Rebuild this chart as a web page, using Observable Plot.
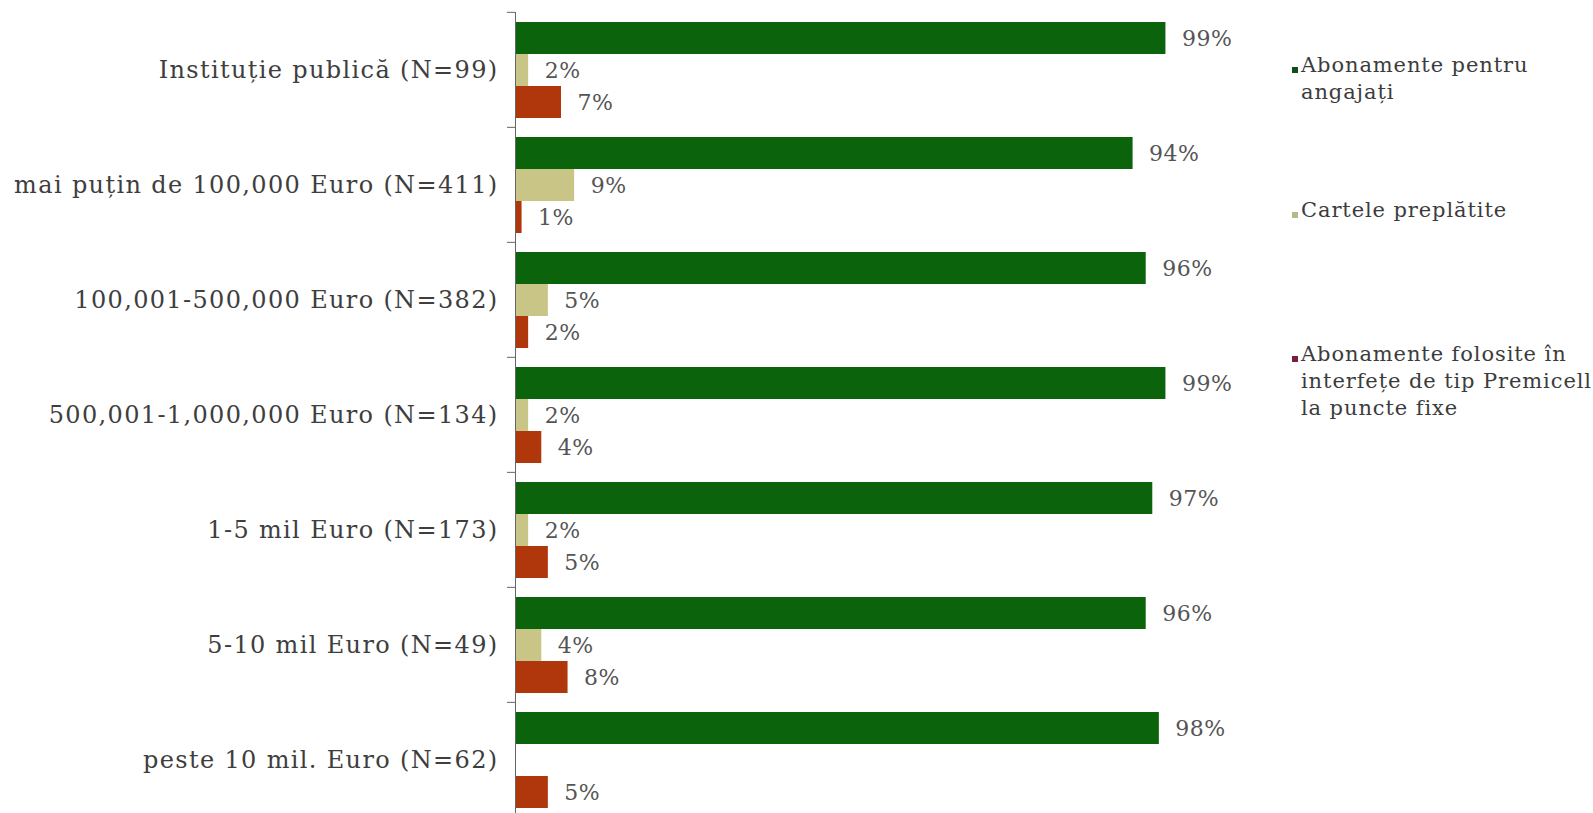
<!DOCTYPE html>
<html>
<head>
<meta charset="utf-8">
<script src="https://cdn.jsdelivr.net/npm/d3@7"></script>
<script src="https://cdn.jsdelivr.net/npm/@observablehq/plot@0.6"></script>
<style>
  html, body { margin: 0; padding: 0; background: #fff; }
  #wrap { position: relative; width: 1593px; height: 813px; overflow: hidden; }
  #chart { position: absolute; left: 0; top: 0; }
  #chart g[aria-label^="fy-axis tick label"] text { letter-spacing: 1.35px; }
  #chart g[aria-label="text"] text { letter-spacing: 0.5px; }
  .leg { position: absolute; left: 1292px; font-family: "DejaVu Serif", serif; font-size: 21px; letter-spacing: 0.9px; line-height: 27px; color: #3c3c3c; padding-left: 9px; width: 295px; white-space: nowrap; }
  .leg .sw { position: absolute; left: 0; width: 6px; height: 6px; }
</style>
</head>
<body>
<div id="wrap">
  <div id="chart"></div>
  <div id="legend"></div>
</div>
<script>
const categories = [
  "Instituție publică (N=99)",
  "mai puțin de 100,000 Euro (N=411)",
  "100,001-500,000 Euro (N=382)",
  "500,001-1,000,000 Euro (N=134)",
  "1-5 mil Euro (N=173)",
  "5-10 mil Euro (N=49)",
  "peste 10 mil. Euro (N=62)"
];
const series = [
  "Abonamente pentru angajați",
  "Cartele preplătite",
  "Abonamente folosite în interfețe de tip Premicell la puncte fixe"
];
const abonamenteAngajati = [99, 94, 96, 99, 97, 96, 98];
const cartelePreplatite = [2, 9, 5, 2, 2, 4, 0];
const abonamentePremicell = [7, 1, 2, 4, 5, 8, 5];
const barColors = ["#0b640b", "#c9c587", "#b0360c"];
const legendColors = ["#0d4f1a", "#b7b98a", "#7a1f3a"];

const valuesBySeries = [abonamenteAngajati, cartelePreplatite, abonamentePremicell];
const data = [];
categories.forEach((c, i) => {
  series.forEach((s, j) => {
    data.push({category: c, series: s, value: valuesBySeries[j][i]});
  });
});
const shown = data.filter(d => d.value > 0);

const H = 813, mTop = 11, mBottom = -5;
const band = (H - mBottom - mTop) / categories.length;

const chart = Plot.plot({
  width: 1280,
  height: H,
  marginLeft: 515,
  marginRight: 108,
  marginTop: mTop,
  marginBottom: mBottom,
  style: {fontFamily: "'DejaVu Serif', serif", overflow: "visible"},
  x: {domain: [0, 100], axis: null},
  y: {domain: series, paddingInner: 0, paddingOuter: 0.272, axis: null},
  fy: {domain: categories, padding: 0, axis: null},
  color: {domain: series, range: barColors},
  marks: [
    Plot.barX(shown, {x: "value", y: "series", fy: "category", fill: "series"}),
    Plot.text(shown, {x: "value", y: "series", fy: "category", text: d => d.value + "%",
      textAnchor: "start", dx: 16, fill: "#555", fontSize: 22}),
    Plot.ruleX([0], {stroke: "#666", strokeWidth: 1}),
    Plot.axisFy({anchor: "left", tickSize: 0, tickPadding: 17, fontSize: 24, label: null, fill: "#3e3e3e"}),
    Plot.axisFy({anchor: "left", tickSize: 8, tickFormat: () => "", label: null, dy: -band / 2, stroke: "#666"})
  ]
});
document.getElementById("chart").appendChild(chart);

const legendTops = [52, 197, 341];
const legendLabels = [
  ["Abonamente pentru", "angajați"],
  ["Cartele preplătite"],
  ["Abonamente folosite în", "interfețe de tip Premicell", "la puncte fixe"]
];
const leg = document.getElementById("legend");
series.forEach((s, i) => {
  const div = document.createElement("div");
  div.className = "leg";
  div.style.top = legendTops[i] + "px";
  div.innerHTML = '<span class="sw" style="top:15px;background:' + legendColors[i] + '"></span>' + legendLabels[i].join("<br>");
  leg.appendChild(div);
});
</script>
</body>
</html>
